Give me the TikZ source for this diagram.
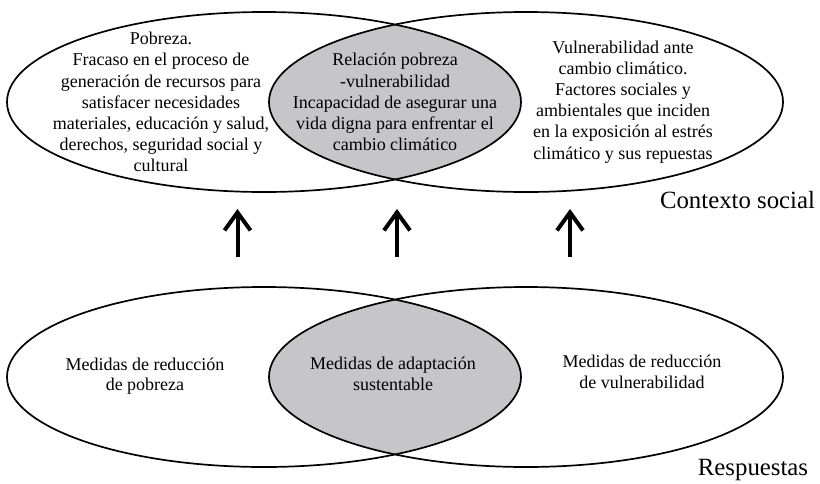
\documentclass[tikz,border=0pt]{standalone}
\usepackage{fontspec}
\setmainfont{Liberation Serif}
\usetikzlibrary{arrows.meta,shapes.geometric}
\definecolor{overlapgray}{RGB}{198,198,200}
\tikzset{
  venn/.style={draw=black, line width=1.7pt, ellipse, minimum width=514pt, minimum height=180pt, inner sep=0pt},
  txt/.style={align=center, inner sep=0pt, font=\fontsize{18}{21.1}\selectfont},
  btxt/.style={align=center, inner sep=0pt, font=\fontsize{18}{20.5}\selectfont},
  bigtxt/.style={inner sep=0pt, font=\fontsize{24.8}{28}\selectfont},
  uparrow/.style={line width=4pt, -{Straight Barb[length=18pt,width=26pt]}}
}
\begin{document}
\begin{tikzpicture}[x=1pt,y=-1pt]
\useasboundingbox (0,0) rectangle (820,483);
% gray overlaps
\begin{scope}
  \clip (264,102) ellipse [x radius=257, y radius=90];
  \fill[overlapgray] (526,102) ellipse [x radius=257, y radius=90];
\end{scope}
\begin{scope}
  \clip (264,377) ellipse [x radius=257, y radius=90];
  \fill[overlapgray] (526,377) ellipse [x radius=257, y radius=90];
\end{scope}
% ellipses
\node[venn] (pob) at (264,102) {};
\node[venn] (vul) at (526,102) {};
\node[venn] (mpob) at (264,377) {};
\node[venn] (mvul) at (526,377) {};
% texts
\node[txt] (tpob) at (161,102) {Pobreza.\\Fracaso en el proceso de\\generación de recursos para\\satisfacer necesidades\\materiales, educación y salud,\\derechos, seguridad social y\\cultural};
\node[txt] (trel) at (395,102) {Relación pobreza\\-vulnerabilidad\\Incapacidad de asegurar una\\vida digna para enfrentar el\\cambio climático};
\node[txt] (tvul) at (623,102) {Vulnerabilidad ante\\cambio climático.\\Factores sociales y\\ambientales que inciden\\en la exposición al estrés\\climático y sus repuestas};
\node[bigtxt] (ctx) at (737.5,200) {Contexto social};
\node[btxt] (tmpob) at (145,376) {Medidas de reducción\\de pobreza};
\node[btxt] (tmad) at (393,374) {Medidas de adaptación\\sustentable};
\node[btxt] (tmvul) at (642,372) {Medidas de reducción\\de vulnerabilidad};
\node[bigtxt] (resp) at (753,470) {Respuestas};
% arrows
\coordinate (a1s) at (237.5,257); \coordinate (a1e) at (237.5,209);
\coordinate (a2s) at (397,257); \coordinate (a2e) at (397,209);
\coordinate (a3s) at (570,257); \coordinate (a3e) at (570,209);
\draw[uparrow] (a1s) -- (a1e);
\draw[uparrow] (a2s) -- (a2e);
\draw[uparrow] (a3s) -- (a3e);
\end{tikzpicture}
\end{document}
